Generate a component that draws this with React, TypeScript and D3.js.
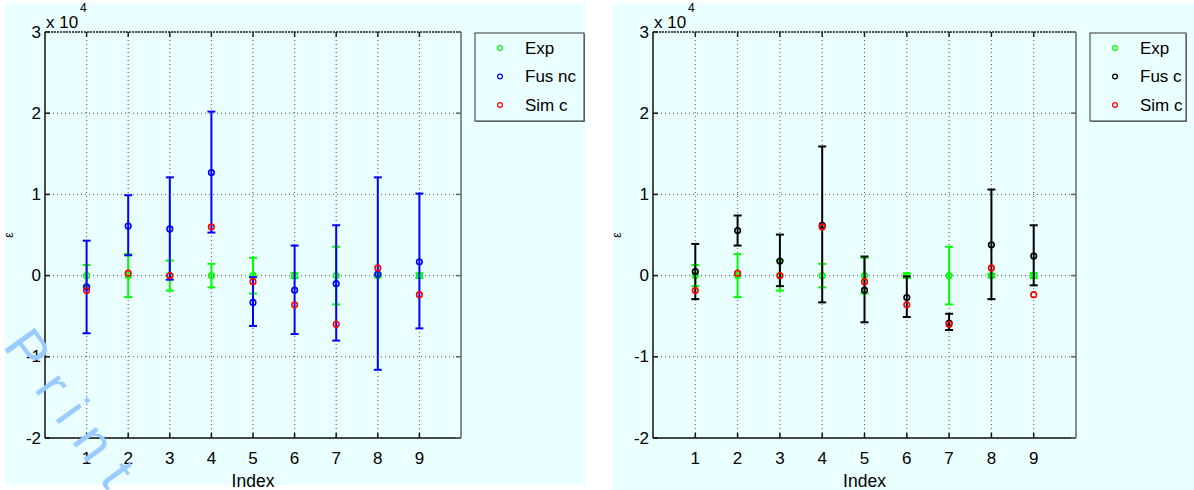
import React from "react";
import * as d3 from "d3";

// ---- data (values in raw units; axis shows x 10^4) ----
const indexes = [1, 2, 3, 4, 5, 6, 7, 8, 9];
const xTicks = [1, 2, 3, 4, 5, 6, 7, 8, 9];
const yTicks = [-20000, -10000, 0, 10000, 20000, 30000];
const yTickLabels = ["-2", "-1", "0", "1", "2", "3"];

const expVal = [0, 0, 0, 0, 0, 0, 0, 0, 0];
const expErr = [1300, 2650, 1850, 1450, 2200, 300, 3550, 200, 300];

const fusNcVal = [-1400, 6100, 5750, 12700, -3300, -1800, -1000, 200, 1700];
const fusNcLow = [-7100, 2500, -500, 5300, -6200, -7200, -8000, -11600, -6500];
const fusNcHigh = [4300, 9900, 12100, 20200, -200, 3700, 6200, 12100, 10100];

const fusCVal = [500, 5550, 1800, 6200, -1800, -2700, -5850, 3800, 2400];
const fusCLow = [-2900, 3700, -1300, -3300, -5750, -5100, -6700, -2900, -1200];
const fusCHigh = [3900, 7400, 5050, 15900, 2350, -100, -4700, 10600, 6200];

const simC = [-1850, 300, 0, 6000, -750, -3600, -6000, 950, -2350];

const BG = "#eaffff";
const FONT = "'Liberation Sans', Arial, Helvetica, sans-serif";

type PanelProps = {
  x0: number;
  x1: number;
  fusVal: number[];
  fusLow: number[];
  fusHigh: number[];
  fusColor: string;
  fusLabel: string;
  legX: number;
  legW: number;
  epsX: number;
};

const Y0 = 32;
const Y1 = 438;

function ErrorSeries({
  x,
  y,
  vals,
  lows,
  highs,
  color,
}: {
  x: d3.ScaleLinear<number, number>;
  y: d3.ScaleLinear<number, number>;
  vals: number[];
  lows: number[];
  highs: number[];
  color: string;
}) {
  const cap = 4;
  return (
    <g>
      {indexes.map((d, i) => {
        const cx = x(d);
        const yl = y(lows[i]);
        const yh = y(highs[i]);
        return (
          <g key={i}>
            <line x1={cx} x2={cx} y1={yl} y2={yh} stroke={color} strokeWidth={2} />
            <line x1={cx - cap} x2={cx + cap} y1={yl} y2={yl} stroke={color} strokeWidth={2} />
            <line x1={cx - cap} x2={cx + cap} y1={yh} y2={yh} stroke={color} strokeWidth={2} />
            <circle cx={cx} cy={y(vals[i])} r={2.8} fill="none" stroke={color} strokeWidth={1.6} />
          </g>
        );
      })}
    </g>
  );
}

function Panel(p: PanelProps) {
  const x = d3.scaleLinear().domain([0, 10]).range([p.x0, p.x1]);
  const y = d3.scaleLinear().domain([-20000, 30000]).range([Y1, Y0]);
  const expLow = expVal.map((v, i) => v - expErr[i]);
  const expHigh = expVal.map((v, i) => v + expErr[i]);
  const tl = 5;
  const legY = 33;
  const legH = 88;
  const legendItems = [
    { label: "Exp", color: "#00ff00" },
    { label: p.fusLabel, color: p.fusColor },
    { label: "Sim c", color: "#ff0000" },
  ];
  const cxMid = (p.x0 + p.x1) / 2;
  return (
    <g>
      {/* grid */}
      {xTicks.map((t) => (
        <line
          key={"gx" + t}
          x1={x(t)}
          x2={x(t)}
          y1={Y0}
          y2={Y1}
          stroke="#555"
          strokeWidth={1}
          strokeDasharray="1,3"
        />
      ))}
      {yTicks.map((t) => (
        <line
          key={"gy" + t}
          x1={p.x0}
          x2={p.x1}
          y1={y(t)}
          y2={y(t)}
          stroke="#555"
          strokeWidth={1}
          strokeDasharray="1,3"
        />
      ))}
      {/* box */}
      <line x1={p.x0} x2={p.x1} y1={Y0} y2={Y0} stroke="#222" strokeWidth={1.5} strokeDasharray="2,1" />
      <line x1={p.x1} x2={p.x1} y1={Y0} y2={Y1} stroke="#666" strokeWidth={1.5} />
      <line x1={p.x0} x2={p.x1} y1={Y1} y2={Y1} stroke="#111" strokeWidth={1.5} />
      <line x1={p.x0} x2={p.x0} y1={Y0} y2={Y1} stroke="#111" strokeWidth={1.5} />
      {/* ticks */}
      {yTicks.map((t) => (
        <g key={"ty" + t}>
          <line x1={p.x0} x2={p.x0 + tl} y1={y(t)} y2={y(t)} stroke="#111" strokeWidth={1.5} />
          <line x1={p.x1} x2={p.x1 - tl} y1={y(t)} y2={y(t)} stroke="#666" strokeWidth={1.5} />
        </g>
      ))}
      {xTicks.map((t) => (
        <g key={"tx" + t}>
          <line x1={x(t)} x2={x(t)} y1={Y1} y2={Y1 - tl} stroke="#111" strokeWidth={1.5} />
          <line x1={x(t)} x2={x(t)} y1={Y0} y2={Y0 + tl} stroke="#222" strokeWidth={1.5} />
        </g>
      ))}
      {/* tick labels */}
      {yTicks.map((t, i) => (
        <text
          key={"ly" + t}
          x={p.x0 - 4}
          y={y(t)}
          textAnchor="end"
          dominantBaseline="central"
          fontFamily={FONT}
          fontSize={17}
          fill="#000"
        >
          {yTickLabels[i]}
        </text>
      ))}
      {xTicks.map((t) => (
        <text
          key={"lx" + t}
          x={x(t)}
          y={464}
          textAnchor="middle"
          fontFamily={FONT}
          fontSize={17}
          fill="#000"
        >
          {t}
        </text>
      ))}
      <text x={cxMid} y={487} textAnchor="middle" fontFamily={FONT} fontSize={17.5} fill="#000">
        Index
      </text>
      <text
        x={p.epsX}
        y={235}
        transform={`rotate(-90 ${p.epsX} ${235})`}
        textAnchor="middle"
        dominantBaseline="central"
        fontFamily={FONT}
        fontSize={12}
        fill="#000"
      >
        ε
      </text>
      {/* exponent */}
      <text x={p.x0 + 1} y={28} fontFamily={FONT} fontSize={17} fill="#000">
        x 10
      </text>
      <text x={p.x0 + 35} y={12} fontFamily={FONT} fontSize={12} fill="#000">
        4
      </text>
      {/* series */}
      <ErrorSeries x={x} y={y} vals={expVal} lows={expLow} highs={expHigh} color="#00ff00" />
      <ErrorSeries x={x} y={y} vals={p.fusVal} lows={p.fusLow} highs={p.fusHigh} color={p.fusColor} />
      {indexes.map((d, i) => (
        <circle key={"s" + i} cx={x(d)} cy={y(simC[i])} r={2.8} fill="none" stroke="#ff0000" strokeWidth={1.6} />
      ))}
      {/* legend */}
      <rect x={p.legX + 1} y={legY + 1} width={p.legW} height={legH} fill="#888" />
      <rect x={p.legX} y={legY} width={p.legW} height={legH} fill={BG} stroke="#333" strokeWidth={1} />
      {legendItems.map((it, i) => (
        <g key={"lg" + i}>
          <circle cx={p.legX + 25} cy={legY + 15 + i * 28.5} r={2.4} fill="none" stroke={it.color} strokeWidth={1.2} />
          <text
            x={p.legX + 50}
            y={legY + 15 + i * 28.5}
            dominantBaseline="central"
            fontFamily={FONT}
            fontSize={17}
            fill="#000"
          >
            {it.label}
          </text>
        </g>
      ))}
    </g>
  );
}

export default function App() {
  return (
    <svg
      width={1194}
      height={490}
      style={{ position: "absolute", left: 0, top: 0, display: "block" }}
      xmlns="http://www.w3.org/2000/svg"
    >
      <rect x={0} y={0} width={1194} height={490} fill="#fff" />
      <rect x={5} y={3} width={581} height={482} fill={BG} />
      <rect x={613} y={3} width={581} height={487} fill={BG} />
      <Panel
        x0={45}
        x1={461}
        fusVal={fusNcVal}
        fusLow={fusNcLow}
        fusHigh={fusNcHigh}
        fusColor="#0000ff"
        fusLabel="Fus nc"
        legX={475}
        legW={109}
        epsX={9}
      />
      <Panel
        x0={653}
        x1={1076}
        fusVal={fusCVal}
        fusLow={fusCLow}
        fusHigh={fusCHigh}
        fusColor="#000000"
        fusLabel="Fus c"
        legX={1090}
        legW={96}
        epsX={617}
      />
      {/* watermark */}
      <text
        x={2}
        y={346}
        transform="rotate(54 2 346)"
        fontFamily={FONT}
        fontSize={54}
        fontWeight={300}
        letterSpacing={17}
        fill="#9acbff"
      >
        Print
      </text>
    </svg>
  );
}
